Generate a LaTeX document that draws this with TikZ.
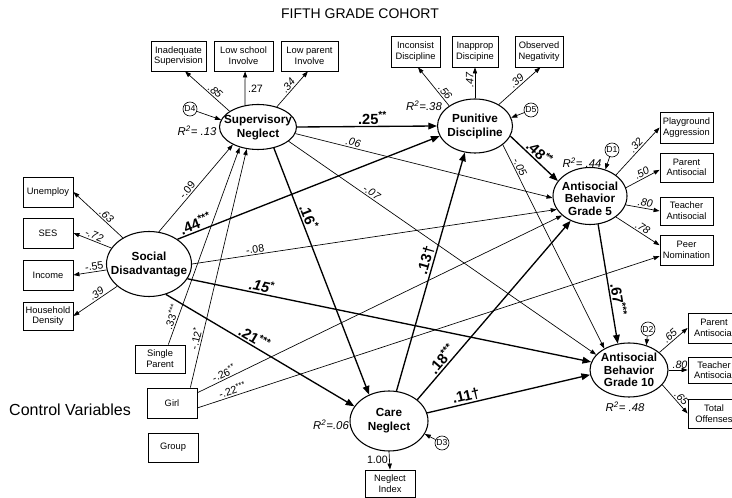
\documentclass[tikz,border=0pt]{standalone}
\usepackage{fontspec}
\setmainfont{Liberation Sans}
\usetikzlibrary{shapes.geometric,arrows.meta}
\begin{document}
\begin{tikzpicture}[x=0.75pt,y=-0.75pt,
  box/.style={draw,line width=0.6pt,inner sep=1pt,align=center,font=\fontsize{7}{8}\selectfont},
  lat/.style={draw,ellipse,line width=0.8pt,inner sep=0pt},
  latxt/.style={align=center,inner sep=0pt,font=\fontsize{8.8}{10.5}\selectfont\bfseries},
  latxtc/.style={align=center,inner sep=0pt,font=\fontsize{8.8}{9.6}\selectfont\bfseries},
  dist/.style={draw,circle,line width=0.5pt,minimum size=10.5pt,inner sep=0pt,font=\fontsize{6.5}{6.5}\selectfont},
  tarr/.style={line width=0.5pt,-{Triangle[length=4.5pt,width=3.2pt]}},
  barr/.style={line width=1pt,-{Triangle[length=6.5pt,width=5pt]}},
  lb/.style={sloped,above,inner sep=1pt,font=\fontsize{8}{8}\selectfont\itshape},
  lbn/.style={sloped,above,inner sep=1pt,font=\fontsize{8}{8}\selectfont},
  blb/.style={sloped,above,inner sep=1pt,font=\fontsize{11}{11}\selectfont\bfseries},
  rsq/.style={inner sep=0pt,font=\fontsize{8.5}{8.5}\selectfont\itshape},
]
\fill[white] (0,0) rectangle (732,498);
\path[use as bounding box] (0,0) rectangle (732,498);

% titles
\node[font=\fontsize{10.5}{10.5}\selectfont] (title) at (360,14) {FIFTH GRADE COHORT};
\node[font=\fontsize{12}{12}\selectfont] (ctrl) at (70,410) {Control Variables};

% indicator boxes
\node[box,minimum width=41.25pt,minimum height=22.5pt] (IS) at (178.5,56) {Inadequate\\Supervision};
\node[box,minimum width=44.25pt,minimum height=22.5pt] (LSI) at (243.5,56) {Low school\\Involve};
\node[box,minimum width=42.75pt,minimum height=22.5pt] (LPI) at (309.5,56) {Low parent\\Involve};
\node[box,minimum width=36.75pt,minimum height=23.25pt] (INC) at (415.5,51.5) {Inconsist\\Discipline};
\node[box,minimum width=34.5pt,minimum height=23.25pt] (IAP) at (475,51.5) {Inapprop\\Discipine};
\node[box,minimum width=36pt,minimum height=23.25pt] (OBS) at (539,51.5) {Observed\\Negativity};
\node[box,minimum width=39.75pt,minimum height=23.25pt] (PG) at (686.5,127.5) {Playground\\Aggression};
\node[box,minimum width=39.75pt,minimum height=21.75pt] (PA) at (686.5,167.5) {Parent\\Antisocial};
\node[box,minimum width=39.75pt,minimum height=21pt] (TA) at (686.5,211) {Teacher\\Antisocial};
\node[box,minimum width=39.75pt,minimum height=22.5pt] (PN) at (686.5,250) {Peer\\Nomination};
\node[box,minimum width=37.5pt,minimum height=22.5pt] (UN) at (48,192) {Unemploy};
\node[box,minimum width=37.5pt,minimum height=22.5pt] (SES) at (48,233) {SES};
\node[box,minimum width=37.5pt,minimum height=22.5pt] (INCM) at (48,275) {Income};
\node[box,minimum width=37.5pt,minimum height=21pt] (HD) at (48,316) {Household\\Density};
\node[box,minimum width=37.5pt,minimum height=21pt] (SP) at (160,359) {Single\\Parent};
\node[box,minimum width=37.5pt,minimum height=22.5pt] (GIRL) at (172,403) {Girl};
\node[box,minimum width=37.5pt,minimum height=21.75pt] (GRP) at (173,447.5) {Group};
\node[box,minimum width=37.5pt,minimum height=20.25pt] (NI) at (390,483.5) {Neglect\\Index};
\node[box,minimum width=39pt,minimum height=22.5pt] (PA2) at (714,328) {Parent\\Antisocial};
\node[box,minimum width=39pt,minimum height=19.5pt] (TA2) at (714,370) {Teacher\\Antisocial};
\node[box,minimum width=39pt,minimum height=21.75pt] (TO) at (714,413.5) {Total\\Offenses};

% latent variables
\node[lat,minimum width=57.75pt,minimum height=33.75pt,label={[latxt]center:{Supervisory\\Neglect}}] (SN) at (258,127) {};
\node[lat,minimum width=56.25pt,minimum height=40.5pt,label={[latxt]center:{Punitive\\Discipline}}] (PD) at (475,126) {};
\node[lat,minimum width=55.5pt,minimum height=42.75pt,label={[latxtc,yshift=-2pt]center:{Antisocial\\Behavior\\Grade 5}}] (AB5) at (590,196) {};
\node[lat,minimum width=63.75pt,minimum height=48.75pt,label={[latxt]center:{Social\\Disadvantage}}] (SD) at (149,264) {};
\node[lat,minimum width=58.5pt,minimum height=45pt,label={[latxt]center:{Care\\Neglect}}] (CN) at (389,421) {};
\node[lat,minimum width=58.5pt,minimum height=40.5pt,label={[latxtc]center:{Antisocial\\Behavior\\Grade 10}}] (AB10) at (629,370) {};

% disturbances
\node[dist] (D4) at (190,109) {D4};
\node[dist] (D5) at (531,110) {D5};
\node[dist] (D1) at (612,150) {D1};
\node[dist] (D2) at (648,329) {D2};
\node[dist] (D3) at (442,443) {D3};

% R squared
\node[rsq] (r13) at (197,131) {R\textsuperscript{2}= .13};
\node[rsq] (r38) at (424,106) {R\textsuperscript{2}=.38};
\node[rsq] (r44) at (582,163) {R\textsuperscript{2}= .44};
\node[rsq] (r06) at (331,425) {R\textsuperscript{2}=.06};
\node[rsq] (r48) at (625,407) {R\textsuperscript{2}= .48};

% Supervisory Neglect
\draw[tarr] (SN.151) -- (IS.-67) node[lb,pos=0.4]{.85};
\draw[tarr] (SN.121.5) -- (LSI.-84) node[pos=0.5,right,inner sep=2pt,font=\fontsize{8}{8}\selectfont]{.27};
\draw[tarr] (SN.47.5) -- (LPI.-96) node[lb,pos=0.5]{.34};
\draw[tarr] (D4) -- (SN.169);
\draw[barr] (SN.east) -- (PD.west) node[blb,pos=0.54]{.25\textsuperscript{**}};
\draw[tarr] (SN.-10) -- (AB5.183) node[lb,pos=0.22]{.06};
\draw[tarr] (SN.-25) -- (AB10.155) node[lb,pos=0.26]{-.07};
\draw[barr] (SN.-53) -- (CN.127) node[blb,pos=0.29]{.16\textsuperscript{*}};

% Social Disadvantage
\draw[tarr] (SD.135) -- (UN.east) node[lb,pos=0.4]{.63};
\draw[tarr] (SD.157.5) -- (SES.east) node[lb,pos=0.5]{-.72};
\draw[tarr] (SD.188) -- (INCM.east) node[lbn,pos=0.35]{-.55};
\draw[tarr] (SD.215) -- (HD.east) node[lb,pos=0.4]{.39};
\draw[tarr] (SD.73) -- (SN.215) node[lbn,pos=0.44]{-.09};
\draw[barr] (SD.41) -- (PD.196) node[blb,pos=0.08]{.44\textsuperscript{***}};
\draw[tarr] (SD.east) -- (AB5.202) node[lbn,pos=0.175]{-.08};
\draw[barr] (SD.-21) -- (AB10.168) node[blb,pos=0.18]{\itshape .15\textsuperscript{*}};
\draw[barr] (SD.-61.5) -- (CN.157) node[blb,pos=0.45]{.21\textsuperscript{***}};

% control variables
\draw[tarr] (SP.60) -- (SN.228) node[lbn,pos=0.13]{.33\textsuperscript{***}};
\draw[tarr] (GIRL.40) -- (SN.243) node[lbn,pos=0.2]{-.12\textsuperscript{*}};
\draw[tarr] (GIRL.22) -- (AB5.215) node[lbn,pos=0.08]{-.26\textsuperscript{**}};
\draw[tarr] (GIRL.-11) -- (PN.193) node[lbn,pos=0.08]{-.22\textsuperscript{***}};

% Care Neglect
\draw[barr] (CN.76) -- (PD.249) node[blb,pos=0.54]{.13†};
\draw[barr] (CN.37) -- (AB5.232) node[blb,pos=0.2]{.18\textsuperscript{***}};
\draw[barr] (CN.12) -- (AB10.187) node[blb,pos=0.25]{.11†};
\draw[tarr] (CN.south) -- (NI.north) node[pos=0.45,left,inner sep=1pt,font=\fontsize{8}{8}\selectfont]{1.00};
\draw[tarr] (D3) -- (CN.-20);

% Punitive Discipline
\draw[tarr] (PD.142.5) -- (INC.-81) node[lb,pos=0.26]{.56};
\draw[tarr] (PD.north) -- (IAP.south) node[lb,pos=0.6]{.47};
\draw[tarr] (PD.42) -- (OBS.-85) node[lb,pos=0.52]{.39};
\draw[tarr] (D5) -- (PD.13);
\draw[barr] (PD.-16) -- (AB5.155) node[blb,pos=0.5]{.48\textsuperscript{**}};
\draw[tarr] (PD.-34) -- (AB10.139) node[lb,pos=0.12]{-.05};

% Antisocial Behavior Grade 5
\draw[tarr] (AB5.39) -- (PG.west) node[lb,pos=0.55]{.32};
\draw[tarr] (AB5.13) -- (PA.185) node[lb,pos=0.55]{.50};
\draw[tarr] (AB5.-14) -- (TA.west) node[lb,pos=0.55]{.80};
\draw[tarr] (AB5.-39) -- (PN.170) node[lb,pos=0.55]{.78};
\draw[tarr] (D1) -- (AB5.60);
\draw[barr] (AB5.-74) -- (AB10.113) node[blb,pos=0.64]{.67\textsuperscript{***}};

% Antisocial Behavior Grade 10
\draw[tarr] (D2) -- (AB10.55);
\draw[tarr] (AB10.30) -- (PA2.west) node[lb,pos=0.5]{.65};
\draw[tarr] (AB10.east) -- (TA2.west) node[lb,pos=0.6]{.80};
\draw[tarr] (AB10.-24) -- (TO.west) node[lb,pos=0.6]{.65};
\end{tikzpicture}
\end{document}
